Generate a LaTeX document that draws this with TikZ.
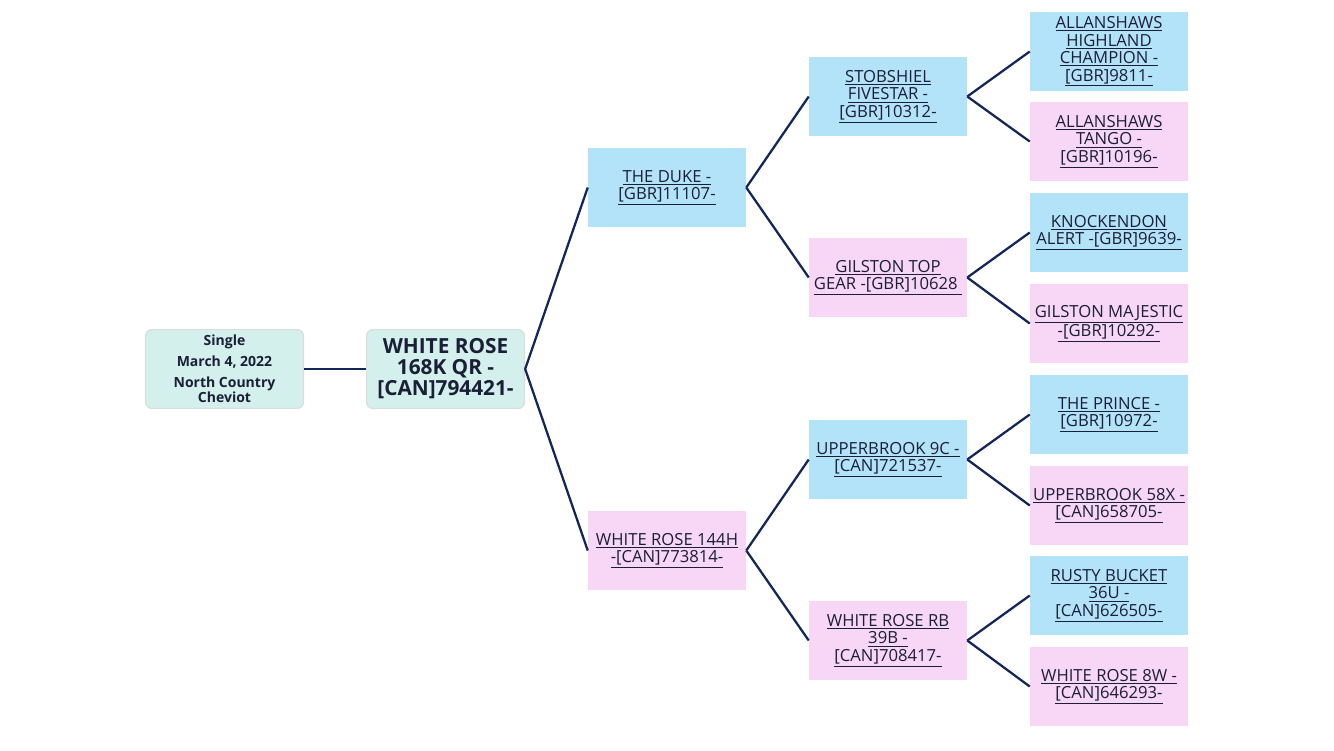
\documentclass[tikz,border=0pt]{standalone}
\usepackage{fontspec}
\setmainfont{Open Sans}
\usetikzlibrary{positioning}
\definecolor{sireblue}{HTML}{B3E3F9}
\definecolor{dampink}{HTML}{F7D7F5}
\definecolor{mint}{HTML}{D4F0EC}
\definecolor{edge}{HTML}{D9DEDE}
\definecolor{navy}{HTML}{13265A}
\definecolor{ink}{HTML}{1A1E36}

\begin{document}
\begin{tikzpicture}[x=0.75pt,y=-0.75pt,font=\fontsize{12.5}{13.1}\selectfont]
\tikzstyle{p}=[minimum width=118.5pt,minimum height=59.25pt,inner sep=0pt,align=center,text=ink]
\tikzstyle{m}=[p,fill=sireblue]
\tikzstyle{f}=[p,fill=dampink]
\tikzstyle{t}=[p,fill=mint,draw=edge,line width=1pt,rounded corners=5pt]
\tikzstyle{ln}=[draw=navy,line width=1.7pt]
\useasboundingbox (0,0) rectangle (1334,750);
% subject and its record
\node[t,font=\bfseries\fontsize{10.5}{11.25}\selectfont] (info) at (224.5,369) {Single\\[4.5pt] March 4, 2022\\[4.2pt] North Country\\ Cheviot};
\node[t,font=\bfseries\fontsize{15.6}{15.75}\selectfont] (x) at (445.5,369) {WHITE ROSE\\ 168K QR -\\ {[CAN]794421-}};
% parents
\node[m] (s) at (667,187.5) {\underline{THE DUKE -}\\ \underline{[GBR]11107-}};
\node[f] (d) at (667,550.5) {\underline{WHITE ROSE 144H}\\ \underline{-[CAN]773814-}};
% grandparents
\node[m] (ss) at (888,96.5) {\underline{STOBSHIEL}\\ \underline{FIVESTAR -}\\ \underline{[GBR]10312-}};
\node[f] (sd) at (888,277.5) {\underline{GILSTON TOP}\\ \underline{GEAR -[GBR]10628\ }};
\node[m] (ds) at (888,459.5) {\underline{UPPERBROOK 9C -}\\ \underline{[CAN]721537-}};
\node[f] (dd) at (888,640.5) {\underline{WHITE ROSE RB}\\ \underline{39B -}\\ \underline{[CAN]708417-}};
% great-grandparents
\node[m] (sss) at (1109,51.5) {\underline{ALLANSHAWS}\\ \underline{HIGHLAND}\\ \underline{CHAMPION -}\\ \underline{[GBR]9811-}};
\node[f] (ssd) at (1109,141.5) {\underline{ALLANSHAWS}\\ \underline{TANGO -}\\ \underline{[GBR]10196-}};
\node[m] (sds) at (1109,232.5) {\underline{KNOCKENDON}\\ \underline{ALERT -[GBR]9639-}};
\node[f] (sdd) at (1109,323.5) {\underline{GILSTON MAJESTIC}\\ \underline{-[GBR]10292-}};
\node[m] (dss) at (1109,414.5) {\underline{THE PRINCE -}\\ \underline{[GBR]10972-}};
\node[f] (dsd) at (1109,505.5) {\underline{UPPERBROOK 58X -}\\ \underline{[CAN]658705-}};
\node[m] (dds) at (1109,595.5) {\underline{RUSTY BUCKET}\\ \underline{36U -}\\ \underline{[CAN]626505-}};
\node[f] (ddd) at (1109,686.5) {\underline{WHITE ROSE 8W -}\\ \underline{[CAN]646293-}};
% connectors
\draw[ln] (info.east) -- (x.west);
\draw[ln] (x.east) -- (s.west); \draw[ln] (x.east) -- (d.west);
\draw[ln] (s.east) -- (ss.west); \draw[ln] (s.east) -- (sd.west); \draw[ln] (d.east) -- (ds.west); \draw[ln] (d.east) -- (dd.west);
\draw[ln] (ss.east) -- (sss.west); \draw[ln] (ss.east) -- (ssd.west); \draw[ln] (sd.east) -- (sds.west); \draw[ln] (sd.east) -- (sdd.west);
\draw[ln] (ds.east) -- (dss.west); \draw[ln] (ds.east) -- (dsd.west); \draw[ln] (dd.east) -- (dds.west); \draw[ln] (dd.east) -- (ddd.west);
\end{tikzpicture}
\end{document}
